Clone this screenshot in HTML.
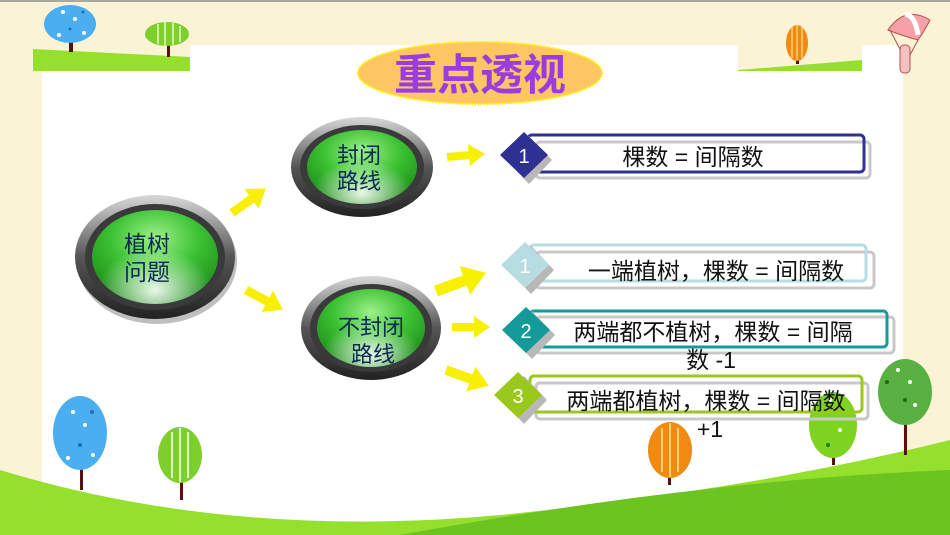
<!DOCTYPE html>
<html><head><meta charset="utf-8"><style>
html,body{margin:0;padding:0;background:#fbf3d6;}
svg{display:block;font-family:"Liberation Sans","Noto Sans CJK SC",sans-serif;}
</style></head><body>
<svg width="950" height="535" viewBox="0 0 950 535" xmlns="http://www.w3.org/2000/svg">
<defs>
<radialGradient id="g1" cx="50%" cy="30%" r="70%">
<stop offset="0" stop-color="#9ef08a"/><stop offset="0.5" stop-color="#3cc233"/><stop offset="1" stop-color="#1b8a18"/></radialGradient>
<radialGradient id="gl" cx="50%" cy="85%" r="45%">
<stop offset="0" stop-color="#ffffff" stop-opacity="0.9"/><stop offset="1" stop-color="#ffffff" stop-opacity="0"/></radialGradient>
<linearGradient id="ring" x1="0" y1="0" x2="0" y2="1">
<stop offset="0" stop-color="#d8d8d8"/><stop offset="0.5" stop-color="#555"/><stop offset="1" stop-color="#222"/></linearGradient>
<g id="arr"><polygon points="0,-4 22,-4 22,-11 38,0 22,11 22,4 0,4" fill="#f7f000"/></g>
</defs>
<rect x="0" y="0" width="950" height="2" fill="#a9a9a0"/>
<rect x="42" y="71" width="861" height="464" fill="#fff"/>
<rect x="190" y="45" width="548" height="30" fill="#fff"/>
<rect x="862" y="45" width="43" height="30" fill="#fff"/>
<polygon points="33,49 190,57 190,71 33,71" fill="#94e02c"/>
<rect x="69" y="38" width="4" height="14" fill="#5a1010"/>
<ellipse cx="70" cy="24" rx="26" ry="19" fill="#4aaef0"/>
<circle cx="63" cy="12" r="2" fill="#fff"/><circle cx="75" cy="19" r="2" fill="#fff"/><circle cx="59" cy="35" r="2" fill="#fff"/><circle cx="84" cy="33" r="2" fill="#fff"/><circle cx="70" cy="29" r="1.5" fill="#1f6fb0"/><circle cx="83" cy="12" r="1.5" fill="#1f6fb0"/>
<rect x="167" y="44" width="3" height="13" fill="#5a1010"/>
<ellipse cx="167" cy="34" rx="22" ry="12" fill="#7ccf2c"/>
<g stroke="#c9f59a" stroke-width="2"><line x1="158" y1="24" x2="158" y2="44"/><line x1="165" y1="22" x2="165" y2="46"/><line x1="173" y1="23" x2="173" y2="45"/><line x1="180" y1="26" x2="180" y2="42"/></g>
<polygon points="738,70 862,60 862,71 738,71" fill="#94e02c"/>
<rect x="796" y="50" width="3" height="14" fill="#5a1010"/>
<ellipse cx="797" cy="43" rx="11" ry="18" fill="#f08a10"/>
<g stroke="#ffd070" stroke-width="1.5"><line x1="792" y1="27" x2="792" y2="58"/><line x1="797" y1="25" x2="797" y2="60"/><line x1="802" y1="27" x2="802" y2="58"/></g>
<path d="M888,30 Q905,5 930,20 Q925,30 918,40 Q900,35 888,30Z" fill="#f7a0a8" stroke="#b05050"/>
<path d="M905,14 Q915,15 918,35" stroke="#fff" stroke-width="5" fill="none"/>
<line x1="890" y1="30" x2="903" y2="55" stroke="#b05050"/><line x1="918" y1="40" x2="910" y2="55" stroke="#b05050"/>
<rect x="900" y="45" width="10" height="28" rx="4" fill="#f5c0c0" stroke="#b05050"/>
<ellipse cx="480" cy="73" rx="122" ry="31" fill="#fdc663" stroke="#ffee00" stroke-width="2" stroke-dasharray="2,1"/>
<text x="480" y="90" text-anchor="middle" font-size="43" font-weight="bold" fill="#9a3de0">重点透视</text>
<path d="M0,470 Q230,540 500,515 Q750,490 950,440 L950,535 L0,535Z" fill="#94e02c"/>
<path d="M400,535 Q700,480 950,470 L950,535Z" fill="#6cc420"/>
<rect x="80" y="458" width="3" height="32" fill="#5a1010"/>
<ellipse cx="80" cy="433" rx="27" ry="37" fill="#4aaef0"/>
<circle cx="73" cy="412" r="2" fill="#fff"/><circle cx="85" cy="425" r="2" fill="#fff"/><circle cx="68" cy="458" r="2" fill="#fff"/><circle cx="93" cy="455" r="2" fill="#fff"/><circle cx="92" cy="412" r="2" fill="#1f6fb0"/><circle cx="80" cy="445" r="2" fill="#1f6fb0"/>
<rect x="180" y="470" width="3" height="30" fill="#5a1010"/>
<ellipse cx="180" cy="455" rx="22" ry="28" fill="#7ccf2c"/>
<g stroke="#e0fbc0" stroke-width="2"><line x1="172" y1="432" x2="172" y2="478"/><line x1="180" y1="428" x2="180" y2="482"/><line x1="188" y1="432" x2="188" y2="478"/></g>
<rect x="668" y="460" width="3" height="25" fill="#5a1010"/>
<ellipse cx="670" cy="450" rx="22" ry="28" fill="#f08a10"/>
<g stroke="#ffd070" stroke-width="2"><line x1="662" y1="428" x2="662" y2="472"/><line x1="670" y1="423" x2="670" y2="477"/><line x1="678" y1="428" x2="678" y2="472"/></g>
<rect x="832" y="440" width="3" height="25" fill="#5a1010"/>
<ellipse cx="833" cy="425" rx="24" ry="33" fill="#7ed321"/>
<circle cx="830" cy="400" r="2" fill="#fff"/><circle cx="840" cy="430" r="2" fill="#fff"/><circle cx="828" cy="445" r="2" fill="#1f7a10"/>
<rect x="904" y="420" width="3" height="35" fill="#5a1010"/>
<ellipse cx="905" cy="392" rx="27" ry="33" fill="#58b040"/>
<circle cx="898" cy="370" r="2" fill="#fff"/><circle cx="910" cy="382" r="2" fill="#fff"/><circle cx="915" cy="405" r="2" fill="#fff"/><circle cx="887" cy="382" r="2" fill="#1f6a10"/><circle cx="905" cy="400" r="2" fill="#1f6a10"/>
<g>
<ellipse cx="157" cy="261" rx="80" ry="63" fill="#000" opacity="0.25"/>
<ellipse cx="155" cy="257" rx="80" ry="62" fill="url(#ring)"/>
<ellipse cx="155" cy="257" rx="70" ry="53" fill="#3a3a3a"/>
<ellipse cx="155" cy="257" rx="63" ry="47" fill="url(#g1)"/>
<ellipse cx="155" cy="257" rx="63" ry="47" fill="url(#gl)"/>
<text x="147" y="252" text-anchor="middle" font-size="23" fill="#0b2a50">植树</text>
<text x="147" y="280" text-anchor="middle" font-size="23" fill="#0b2a50">问题</text>
</g>
<g>
<ellipse cx="362" cy="167" rx="71" ry="50" fill="url(#ring)"/>
<ellipse cx="362" cy="167" rx="62" ry="42" fill="#3a3a3a"/>
<ellipse cx="362" cy="167" rx="55" ry="37" fill="url(#g1)"/>
<ellipse cx="362" cy="167" rx="55" ry="37" fill="url(#gl)"/>
<text x="359" y="163" text-anchor="middle" font-size="22" fill="#0b2a50">封闭</text>
<text x="359" y="189" text-anchor="middle" font-size="22" fill="#0b2a50">路线</text>
</g>
<g>
<ellipse cx="371" cy="328" rx="70" ry="52" fill="url(#ring)"/>
<ellipse cx="371" cy="328" rx="61" ry="44" fill="#3a3a3a"/>
<ellipse cx="371" cy="328" rx="54" ry="39" fill="url(#g1)"/>
<ellipse cx="371" cy="328" rx="54" ry="39" fill="url(#gl)"/>
<text x="371" y="335" text-anchor="middle" font-size="22" fill="#0b2a50">不封闭</text>
<text x="373" y="362" text-anchor="middle" font-size="22" fill="#0b2a50">路线</text>
</g>
<use href="#arr" transform="translate(232,213) rotate(-36) scale(1.1)"/>
<use href="#arr" transform="translate(246,290) rotate(28) scale(1.1)"/>
<use href="#arr" transform="translate(447,157) rotate(-5)"/>
<use href="#arr" transform="translate(436,291) rotate(-20) scale(1.4)"/>
<use href="#arr" transform="translate(452,327) rotate(0)"/>
<use href="#arr" transform="translate(446,370) rotate(20) scale(1.2)"/>
<g fill="none" stroke-width="3">
<rect x="536" y="142" width="334" height="36" rx="4" stroke="#c8c8c8"/>
<rect x="528" y="135" width="336" height="37" rx="4" stroke="#2e3192"/>
<rect x="536" y="252" width="338" height="36" rx="4" stroke="#c8c8c8"/>
<rect x="530" y="245" width="336" height="36" rx="4" stroke="#b7dde2"/>
<rect x="536" y="317" width="358" height="36" rx="4" stroke="#c8c8c8"/>
<rect x="530" y="311" width="357" height="36" rx="4" stroke="#139b9a"/>
<rect x="536" y="383" width="332" height="36" rx="4" stroke="#c8c8c8"/>
<rect x="530" y="376" width="332" height="36" rx="4" stroke="#9bc81c"/>
</g>
<g>
<polygon points="529,136 552,160 529,184 506,160" fill="#b8b8b8"/>
<polygon points="524,132 548,155 524,178 500,155" fill="#2e3192"/>
<text x="524" y="163" text-anchor="middle" font-size="20" fill="#fff">1</text>
<polygon points="531,246 554,270 531,294 508,270" fill="#b8b8b8"/>
<polygon points="525,242 549,265 525,288 501,265" fill="#b7dde2"/>
<text x="525" y="273" text-anchor="middle" font-size="20" fill="#fff">1</text>
<polygon points="532,311 555,335 532,359 509,335" fill="#b8b8b8"/>
<polygon points="526,307 550,330 526,353 502,330" fill="#139b9a"/>
<text x="526" y="338" text-anchor="middle" font-size="20" fill="#fff">2</text>
<polygon points="524,376 547,400 524,424 501,400" fill="#b8b8b8"/>
<polygon points="518,372 542,395 518,418 494,395" fill="#9bc81c"/>
<text x="518" y="403" text-anchor="middle" font-size="20" fill="#fff">3</text>
</g>
<g font-size="23" fill="#111">
<text x="693" y="165" text-anchor="middle">棵数 = 间隔数</text>
<text x="716" y="279" text-anchor="middle">一端植树，棵数 = 间隔数</text>
<text x="713" y="340" text-anchor="middle">两端都不植树，棵数 = 间隔</text>
<text x="711" y="368" text-anchor="middle">数 -1</text>
<text x="706" y="409" text-anchor="middle">两端都植树，棵数 = 间隔数</text>
<text x="710" y="437" text-anchor="middle">+1</text>
</g>
</svg>
</body></html>
